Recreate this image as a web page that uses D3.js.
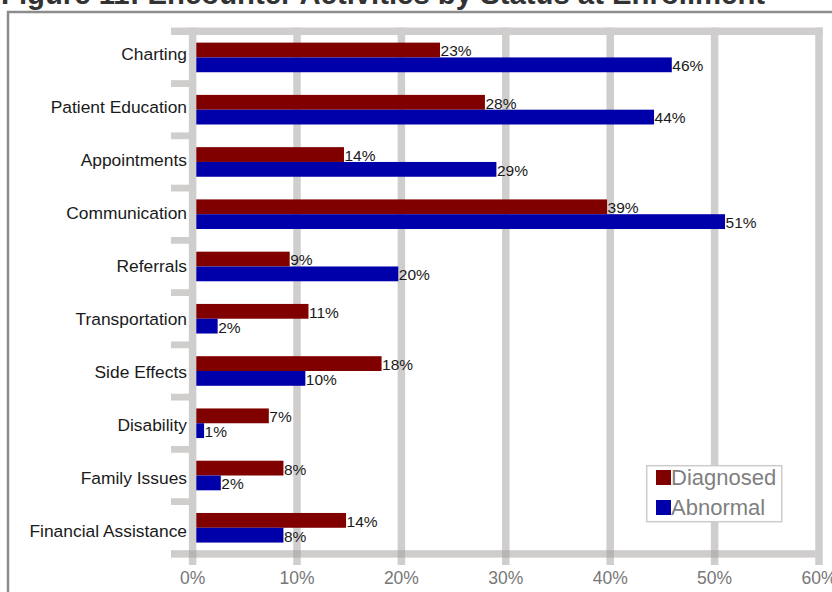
<!DOCTYPE html>
<html>
<head>
<meta charset="utf-8">
<script src="https://cdn.jsdelivr.net/npm/d3@7"></script>
<style>
  html, body { margin: 0; padding: 0; background: #fff; }
  svg { display: block; }
  text { font-family: "Liberation Sans", Arial, sans-serif; }
</style>
</head>
<body>
<script>
const title = "Figure 11: Encounter Activities by Status at Enrollment";
const categories = ["Charting", "Patient Education", "Appointments", "Communication", "Referrals",
  "Transportation", "Side Effects", "Disability", "Family Issues", "Financial Assistance"];
const seriesNames = ["Diagnosed", "Abnormal"];
const diagnosed = [23.7, 28.0, 14.5, 39.7, 9.3, 11.1, 18.1, 7.3, 8.7, 14.7];
const abnormal = [45.9, 44.2, 29.1, 51.0, 19.7, 2.4, 10.8, 1.1, 2.7, 8.7];
const diagnosedLabels = ["23%", "28%", "14%", "39%", "9%", "11%", "18%", "7%", "8%", "14%"];
const abnormalLabels = ["46%", "44%", "29%", "51%", "20%", "2%", "10%", "1%", "2%", "8%"];
const xTicks = [0, 10, 20, 30, 40, 50, 60];
const xTickLabels = ["0%", "10%", "20%", "30%", "40%", "50%", "60%"];
const colors = ["#800000", "#0000aa"];

const W = 832, H = 592;
const svg = d3.select("body").append("svg").attr("width", W).attr("height", H);
svg.append("rect").attr("width", W).attr("height", H).attr("fill", "#fff");

// title (partly cut off at the top)
svg.append("text").attr("x", 1).attr("y", 3.5)
  .attr("font-size", 29.3).attr("font-weight", "bold").attr("fill", "#333")
  .text(title);

// outer frame
svg.append("rect").attr("x", 8).attr("y", 12).attr("width", 900).attr("height", 700)
  .attr("fill", "none").attr("stroke", "#8c8c8c").attr("stroke-width", 2.5);

const x = d3.scaleLinear().domain([0, 60]).range([192.6, 819]);
const y = d3.scaleBand().domain(categories).range([31.3, 553.9]).padding(0);
const yLabel = d3.scalePoint().domain(categories).range([54, 531]);

const gridCol = "#d0cdcd";
const gw = 7.5;
const barH = 14.8;

// top band
svg.append("rect").attr("x", 171).attr("y", y.range()[0] - gw / 2)
  .attr("width", x(60) + gw / 2 - 171).attr("height", gw).attr("fill", gridCol);

// vertical gridlines
svg.selectAll(".grid").data(xTicks.slice(1)).join("rect")
  .attr("x", d => x(d) - gw / 2).attr("y", y.range()[0] - gw / 2)
  .attr("width", gw).attr("height", 565 - (y.range()[0] - gw / 2)).attr("fill", gridCol);

// y-axis tick stubs at category boundaries
const boundaries = categories.slice(1).map(c => y(c));
svg.selectAll(".ystub").data(boundaries).join("rect")
  .attr("x", 171).attr("y", d => d - 3.4).attr("width", x(0) - 171).attr("height", 6.8)
  .attr("fill", gridCol);

// bars
const rows = categories.map((c, i) => ({ c, vals: [diagnosed[i], abnormal[i]], labs: [diagnosedLabels[i], abnormalLabels[i]] }));
const g = svg.append("g");
rows.forEach(r => {
  const cy = y(r.c) + y.bandwidth() / 2;
  r.vals.forEach((v, k) => {
    const top = cy - barH + k * barH;
    g.append("rect").attr("x", x(0)).attr("y", top)
      .attr("width", x(v) - x(0)).attr("height", barH).attr("fill", colors[k]);
    g.append("text").attr("x", x(v) + 0.5).attr("y", top + barH - 1)
      .attr("font-size", 15.5).attr("fill", "#1a1a1a").text(r.labs[k]);
  });
});

// y-axis line (over bars)
svg.append("rect").attr("x", x(0) - gw / 2).attr("y", y.range()[0] - gw / 2)
  .attr("width", gw).attr("height", 565 - (y.range()[0] - gw / 2)).attr("fill", gridCol);

// bottom axis band (semi-transparent, darker where it crosses gridlines)
svg.append("rect").attr("x", 171).attr("y", y.range()[1] - gw / 2)
  .attr("width", x(60) - gw / 2 - 171).attr("height", gw)
  .attr("fill", "rgb(163,158,158)").attr("fill-opacity", 0.52);

// category labels
svg.selectAll(".cat").data(categories).join("text")
  .attr("x", 187).attr("y", d => yLabel(d)).attr("dy", "0.35em")
  .attr("text-anchor", "end").attr("font-size", 17.4).attr("fill", "#1a1a1a")
  .text(d => d);

// x tick labels
svg.selectAll(".xt").data(xTicks).join("text")
  .attr("x", d => x(d)).attr("y", 578).attr("dy", "0.35em")
  .attr("text-anchor", "middle").attr("font-size", 17.5).attr("fill", "#777")
  .text((d, i) => xTickLabels[i]);

// legend
const lg = svg.append("g");
lg.append("rect").attr("x", 646.7).attr("y", 465.7).attr("width", 135).attr("height", 56)
  .attr("fill", "#fff").attr("stroke", "#cccccc").attr("stroke-width", 1.5);
seriesNames.forEach((s, k) => {
  lg.append("rect").attr("x", 656).attr("y", 470 + k * 30).attr("width", 15).attr("height", 15)
    .attr("fill", colors[k]);
  lg.append("text").attr("x", 671).attr("y", 485 + k * 30)
    .attr("font-size", 22).attr("fill", "#7f7f7f").text(s);
});
</script>
</body>
</html>
